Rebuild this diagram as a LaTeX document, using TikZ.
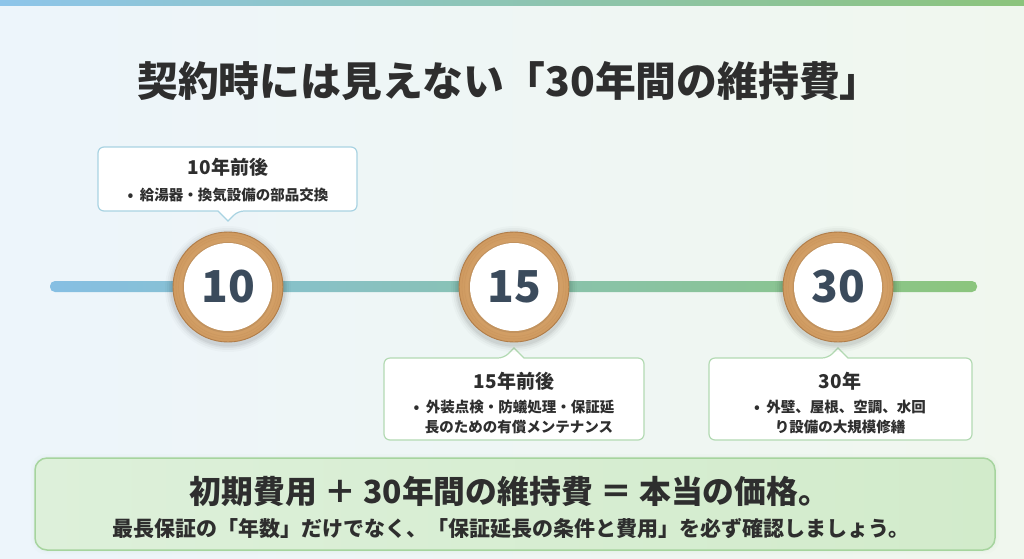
\documentclass[tikz,border=0pt]{standalone}
\usepackage{fontspec}
\setmainfont{Noto Sans CJK JP}
\usetikzlibrary{calc}
\definecolor{bgL}{HTML}{EDF5FB}
\definecolor{bgR}{HTML}{F0F7EE}
\definecolor{barL}{HTML}{8EC5EA}
\definecolor{barR}{HTML}{8CC47C}
\definecolor{lineL}{HTML}{86BFE3}
\definecolor{lineM}{HTML}{8CCBC4}
\definecolor{lineR}{HTML}{8BC57D}
\definecolor{woodIn}{HTML}{E3B782}
\definecolor{woodOut}{HTML}{CF9A60}
\definecolor{woodEdge}{HTML}{B07C48}
\definecolor{numcol}{HTML}{3B4B5C}
\definecolor{txt}{HTML}{2E2E2E}
\definecolor{cbBlue}{HTML}{A9D3E2}
\definecolor{cbGreen}{HTML}{B3DAB3}
\definecolor{boxL}{HTML}{DDF0DA}
\definecolor{boxR}{HTML}{D2EBCB}
\definecolor{boxEdge}{HTML}{A6D49E}
\tikzset{
  calloutbox/.style={fill=white, line width=1.2pt},
  headtxt/.style={font=\bfseries\fontsize{19}{22}\selectfont, text=txt, inner sep=0pt},
  bodytxt/.style={font=\bfseries\fontsize{14.5}{20}\selectfont, text=txt, inner sep=0pt, align=center},
  numtxt/.style={font=\bfseries\fontsize{44}{44}\selectfont, text=numcol, inner sep=0pt}
}
\newcommand\WoodDisc[3]{% name, x, label
  \foreach \r/\o in {63/0.02,61/0.03,59/0.04,57.5/0.05}{
    \fill[black, opacity=\o] (#2,289) circle (\r);
  }
  \shade[inner color=woodIn, outer color=woodOut] (#2,287) circle (55);
  \foreach \r in {49.5,52}{\draw[woodEdge, opacity=0.15, line width=0.6pt] (#2,287) circle (\r);}
  \draw[woodEdge, line width=0.9pt] (#2,287) circle (55);
  \fill[black, opacity=0.08] (#2,287.5) circle (45.5);
  \fill[white] (#2,287) circle (44);
  \node[numtxt] (#1) at (#2,287) {#3};
}
\begin{document}
\begin{tikzpicture}[x=1pt,y=-1pt]
\useasboundingbox (0,0) rectangle (1024,558);
\shade[left color=bgL, right color=bgR] (0,0) rectangle (1024,558);
\shade[left color=barL, right color=barR] (0,0) rectangle (1024,5);

% title
\node[font=\bfseries\fontsize{40.8}{44}\selectfont, text=txt, inner sep=0pt] (title) at (509,81) {契約時には見えない「30年間の維持費」};

% timeline
\shade[left color=lineL, middle color=lineM, right color=lineR, rounded corners=5pt] (50,281) rectangle (977,292);

% callout 1 (above)
\draw[calloutbox, draw=cbBlue, rounded corners=6pt] (98,147) -- (357,147) -- (357,211) -- (238,211) [sharp corners] -- (228,221) -- (218,211) [rounded corners=6pt] -- (98,211) -- cycle;
\node[headtxt] (h10) at (228,167) {10年前後};
\node[bodytxt] (b10) at (228,195) {•\ \ 給湯器・換気設備の部品交換};

% callout 2 (below)
\draw[calloutbox, draw=cbGreen, rounded corners=6pt] (384,358) -- (504,358) [sharp corners] -- (514,348) -- (524,358) [rounded corners=6pt] -- (644,358) -- (644,440) -- (384,440) -- cycle;
\node[headtxt] (h15) at (514,381) {15年前後};
\node[bodytxt] (b15) at (514,417) {•\ \ 外装点検・防蟻処理・保証延\\\ \ \ 長のための有償メンテナンス};

% callout 3 (below)
\draw[calloutbox, draw=cbGreen, rounded corners=6pt] (709,358) -- (828,358) [sharp corners] -- (838,348) -- (848,358) [rounded corners=6pt] -- (972,358) -- (972,440) -- (709,440) -- cycle;
\node[headtxt] (h30) at (840,381) {30年};
\node[bodytxt] (b30) at (840,417) {•\ \ 外壁、屋根、空調、水回\\り設備の大規模修繕};

% wood discs
\WoodDisc{c10}{228}{10}
\WoodDisc{c15}{514}{15}
\WoodDisc{c30}{838}{30}

% bottom box
\foreach \e/\o in {4/0.03,2/0.05}{
  \fill[boxEdge, opacity=\o, rounded corners=14pt] (35-\e,458-\e) rectangle (995+\e,550+\e);
}
\shade[left color=boxL, right color=boxR, rounded corners=12pt] (35,458) rectangle (995,550);
\draw[boxEdge, line width=1.5pt, rounded corners=12pt] (35,458) rectangle (995,550);
\node[font=\bfseries\fontsize{31.8}{34}\selectfont, text=txt, inner sep=0pt] (sum) at (510,491) {初期費用 ＋ 30年間の維持費 ＝ 本当の価格。};
\node[font=\bfseries\fontsize{21}{24}\selectfont, text=txt, inner sep=0pt] (note) at (511,528) {最長保証の「年数」だけでなく、「保証延長の条件と費用」を必ず確認しましょう。};
\end{tikzpicture}
\end{document}
